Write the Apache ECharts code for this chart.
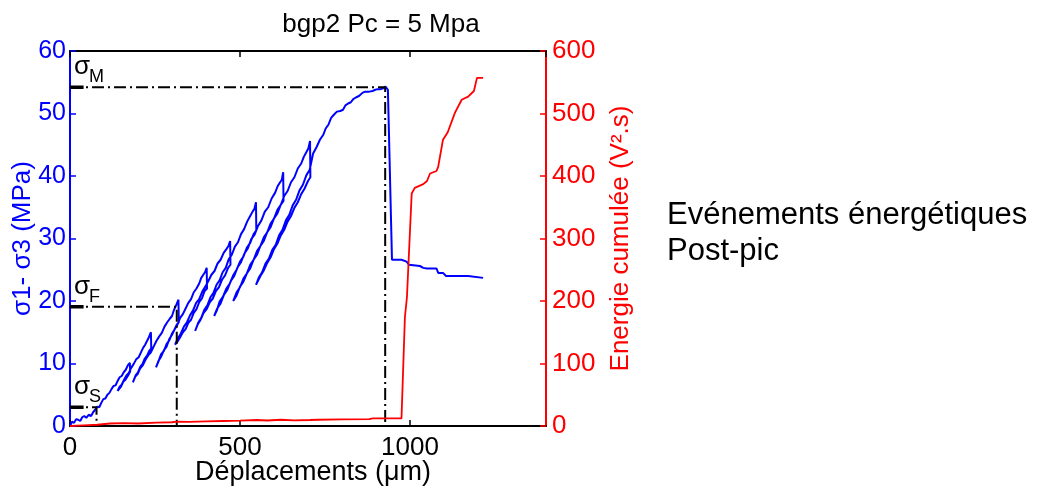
<!DOCTYPE html>
<html>
<head>
<meta charset="utf-8">
<script src="https://cdn.jsdelivr.net/npm/echarts/dist/echarts.min.js"></script>
<style>
html,body{margin:0;padding:0;background:#fff;}
#chart{width:1037px;height:490px;}
</style>
</head>
<body>
<div id="chart"></div>
<script>
// ---- data ----
const titleText = 'bgp2 Pc = 5 Mpa';
const xName = 'Déplacements (μm)';
const yLeftName = 'σ1- σ3 (MPa)';
const yRightName = 'Energie cumulée (V².s)';
const sideText1 = 'Evénements énergétiques';
const sideText2 = 'Post-pic';

// stress (MPa) vs displacement (µm) – blue curve with loading/unloading cycles
const stressCurve = [
  [0,0],[6,0.7],[12,0.5],[18,1.1],[24,1.0],[30,0.8],[36,1.4],[42,1.6],[48,1.3],[55,1.8],[62,1.6],[68,2.2],
  [74,2.6],[80,3.1],[86,3.0],[92,3.7],[98,4.3],[104,4.4],[110,5.0],[116,5.3],[122,5.9],[128,6.4],[134,6.5],
  [140,7.2],[146,7.8],[152,8.0],[158,8.6],[164,9.0],[170,9.7],[176,10.1],
  [177,8.7],[170,8.0],[163,7.4],[157,7.1],[150,6.3],[145,6.0],[140,5.6],
  [146,6.3],[152,6.6],[159,7.4],[166,8.1],[173,8.5],[180,9.3],[187,9.9],[195,10.7],[202,11.0],[208,11.7],
  [215,12.5],[221,13.0],[226,13.3],[232,14.2],[238,15.0],
  [239,12.4],[233,12.0],[227,11.3],[220,10.8],[214,10.0],[207,9.5],[200,8.6],[193,8.1],[185,7.0],
  [192,7.9],[199,8.3],[206,9.2],[214,9.7],[222,10.6],[230,11.3],[238,11.8],[246,12.7],[254,13.6],[262,14.3],
  [270,14.9],[278,15.9],[286,16.6],[294,17.2],[300,17.6],[306,18.6],[312,19.3],[316,19.6],[319,20.2],
  [320,16.6],[314,16.2],[307,15.4],[300,14.8],[292,13.7],[284,13.1],[276,12.0],[268,11.5],[260,10.3],[253,9.4],
  [260,10.4],[268,11.1],[276,12.1],[284,12.7],[292,13.9],[300,14.6],[308,15.5],[316,16.2],[324,17.3],[332,17.9],
  [340,18.8],[348,19.7],[356,20.3],[364,21.4],[372,22.0],[380,22.8],[386,23.7],[392,24.2],[397,24.6],[402,25.3],
  [403,22.0],[396,21.6],[388,20.4],[380,19.8],[372,18.7],[364,18.1],[356,17.0],[348,16.5],[340,15.5],[332,15.0],
  [324,14.2],[316,13.5],[309,13.0],
  [317,14.0],[326,14.8],[335,15.9],[344,16.6],[353,17.7],[362,18.5],[371,19.7],[380,20.3],[389,21.5],[398,22.3],
  [407,23.2],[416,24.2],[425,24.8],[434,26.0],[443,26.6],[452,27.7],[460,28.3],[466,28.8],[471,29.6],
  [472,25.8],[465,25.3],[456,24.1],[447,23.4],[438,22.2],[429,21.6],[420,20.4],[411,19.8],[402,18.7],[393,18.1],
  [384,17.0],[376,16.3],[368,15.2],
  [377,16.5],[386,17.3],[395,18.6],[404,19.3],[413,20.6],[422,21.3],[431,22.6],[440,23.3],[449,24.6],[458,25.3],
  [467,26.7],[476,27.4],[485,28.7],[494,29.4],[503,30.7],[512,31.5],[521,32.7],[530,33.6],[537,34.3],[542,34.7],[547,35.8],
  [548,31.3],[540,30.7],[530,29.3],[520,28.5],[510,27.1],[500,26.3],[490,25.0],[480,24.1],[470,22.8],[460,22.0],
  [450,20.7],[440,19.9],[432,18.5],[424,17.6],
  [433,18.8],[443,19.6],[453,21.0],[463,21.8],[473,23.2],[483,24.0],[493,25.4],[503,26.2],[513,27.6],[523,28.4],
  [533,29.9],[543,30.6],[553,32.0],[563,32.9],[573,34.3],[583,35.0],[593,36.4],[603,37.3],[611,38.4],[618,39.0],
  [623,39.4],[627,40.6],
  [628,36.0],[620,35.4],[610,34.0],[600,33.2],[590,31.8],[580,31.0],[570,29.6],[560,28.8],[550,27.4],[540,26.6],
  [530,25.2],[520,24.4],[510,23.1],[500,22.3],[490,20.9],[480,20.0],
  [490,21.4],[500,22.2],[510,23.6],[520,24.4],[530,25.8],[540,26.6],[550,28.0],[560,28.8],[570,30.2],[580,31.0],
  [590,32.4],[600,33.2],[610,34.6],[620,35.4],[630,36.8],[640,37.6],[650,39.0],[660,39.8],[670,41.2],[680,42.0],
  [688,43.1],[695,43.8],[701,44.4],[706,45.6],
  [707,39.8],[700,39.2],[690,38.0],[680,37.1],[670,35.8],[660,34.9],[650,33.6],[640,32.7],[630,31.4],[620,30.5],
  [610,29.2],[600,28.3],[590,27.0],[580,26.1],[570,24.9],[560,24.0],[547,22.6],
  [555,23.7],[565,24.6],[575,26.0],[585,26.8],[595,28.2],[605,29.0],[615,30.5],[625,31.4],[635,32.9],[645,33.8],
  [655,35.3],[665,36.2],[675,37.7],[685,38.6],[695,40.1],[705,41.0],[715,43.6],[725,44.6],[735,45.8],[745,46.6],
  [752,47.6],[760,48.2],[768,49.3],[776,49.8],[785,50.3],[795,50.4],[803,50.6],[810,51.3],[818,51.6],[826,51.8],
  [833,52.3],[842,52.6],[850,52.8],[860,53.3],[868,53.5],[880,53.5],[890,53.6],[898,53.8],[905,53.9],[913,53.9],
  [920,54.0],[928,54.3],
  [935,53.8],[947,26.6],[975,26.6],[990,26.3],[997,25.8],[1029,25.6],[1039,25.3],[1044,25.6],[1050,25.2],
  [1078,25.2],[1083,24.5],[1097,24.5],[1106,24.0],[1171,24.0],[1176,23.7],[1215,23.7]
];

// cumulated energy (V².s) vs displacement – red curve
const energyCurve = [
  [0,0],[40,1],[80,2],[118,4],[160,4.5],[200,4],[255,5.3],[300,6],[314,7],[350,6.5],[400,7.5],
  [450,8],[500,8.5],[549,9.6],[580,8.8],[620,10],[660,9],[706,9.6],[730,10],[800,10.5],[880,11],
  [891,12.3],[930,12.3],[975,12.3],[985,174],[991,206],[1005,372],[1014,381],[1039,387],[1050,392],
  [1059,404],[1078,408],[1083,415],[1097,458],[1111,470],[1132,501],[1152,522],[1171,527],[1188,536],
  [1197,557],[1215,557]
];

// characteristic stress levels: [displacement, stress]
const sigmaM = [927, 54.2];
const sigmaF = [314, 19.1];
const sigmaS = [78, 3.0];
const sigmaNames = ['M', 'F', 'S'];

const FONT = '"Liberation Sans", Arial, Helvetica, sans-serif';
const BLUE = '#0000ff', RED = '#ff0000';

function refLine(p) { return [[0, p[1]], [p[0], p[1]], [p[0], 0]]; }
function thickStub(p) { return [[0, p[1]], [Math.min(40, p[0]), p[1]]]; }

const sigmas = [sigmaM, sigmaF, sigmaS];
const refSeries = [];
sigmas.forEach(function (p) {
  refSeries.push({
    type: 'line', data: refLine(p), showSymbol: false, silent: true, z: 4,
    lineStyle: { color: '#000', width: 2, type: [12, 4, 2, 4] }
  });
  refSeries.push({
    type: 'line', data: thickStub(p), showSymbol: false, silent: true, z: 4,
    lineStyle: { color: '#000', width: 3.5 }
  });
});

const plainNum = function (v) { return String(v); };

const option = {
  animation: false,
  backgroundColor: '#fff',
  textStyle: { fontFamily: FONT },
  grid: { left: 70, right: 491, top: 51, bottom: 64, containLabel: false, outerBoundsMode: 'none' },
  xAxis: [
    {
      type: 'value', min: 0, max: 1400, interval: 500, position: 'bottom',
      axisLine: { show: true, onZero: false, lineStyle: { color: '#000', width: 2 } },
      axisTick: { show: true, inside: true, length: 6, lineStyle: { color: '#000', width: 1.5 } },
      axisLabel: { color: '#000', fontSize: 26, margin: 9, fontFamily: FONT, formatter: plainNum, showMaxLabel: false },
      splitLine: { show: false },
      name: xName, nameLocation: 'middle', nameGap: 33, nameMoveOverlap: false,
      nameTextStyle: { color: '#000', fontSize: 27, fontFamily: FONT, padding: [0, 0, 0, 10] }
    },
    {
      type: 'value', min: 0, max: 1400, interval: 500, position: 'top',
      axisLine: { show: true, onZero: false, lineStyle: { color: '#000', width: 2 } },
      axisTick: { show: true, inside: true, length: 6, lineStyle: { color: '#000', width: 1.5 } },
      axisLabel: { show: false }, splitLine: { show: false }
    }
  ],
  yAxis: [
    {
      type: 'value', min: 0, max: 60, interval: 10, position: 'left',
      axisLine: { show: true, onZero: false, lineStyle: { color: BLUE, width: 2 } },
      axisTick: { show: true, inside: true, length: 6, lineStyle: { color: BLUE, width: 1.5 } },
      axisLabel: { color: BLUE, fontSize: 25, margin: 4, fontFamily: FONT, formatter: plainNum },
      splitLine: { show: false },
      name: yLeftName, nameLocation: 'middle', nameGap: 34, nameRotate: 90, nameMoveOverlap: false,
      nameTextStyle: { color: BLUE, fontSize: 26, fontFamily: FONT }
    },
    {
      type: 'value', min: 0, max: 600, interval: 100, position: 'right',
      axisLine: { show: true, onZero: false, lineStyle: { color: RED, width: 2 } },
      axisTick: { show: true, inside: true, length: 6, lineStyle: { color: RED, width: 1.5 } },
      axisLabel: { color: RED, fontSize: 26, margin: 6, fontFamily: FONT, formatter: plainNum },
      splitLine: { show: false },
      name: yRightName, nameLocation: 'middle', nameGap: 62, nameRotate: 90, nameMoveOverlap: false,
      nameTextStyle: { color: RED, fontSize: 26, fontFamily: FONT }
    }
  ],
  series: [
    {
      type: 'line', data: stressCurve, xAxisIndex: 0, yAxisIndex: 0, showSymbol: false, z: 3,
      lineStyle: { color: BLUE, width: 2 }
    },
    {
      type: 'line', data: energyCurve, xAxisIndex: 0, yAxisIndex: 1, showSymbol: false, z: 5,
      lineStyle: { color: RED, width: 1.8 }
    }
  ].concat(refSeries)
};

const chart = echarts.init(document.getElementById('chart'), null, { renderer: 'canvas' });
chart.setOption(option);

const graphics = [
  { type: 'text', x: 381, y: 25, style: { text: titleText, fontSize: 26, fontFamily: FONT, fill: '#000', align: 'center', verticalAlign: 'middle' } },
  { type: 'text', x: 667, y: 215, style: { text: sideText1, fontSize: 31, fontFamily: FONT, fill: '#000', align: 'left', verticalAlign: 'middle' } },
  { type: 'text', x: 667, y: 251, style: { text: sideText2, fontSize: 31, fontFamily: FONT, fill: '#000', align: 'left', verticalAlign: 'middle' } }
];
sigmas.forEach(function (p, i) {
  const px = chart.convertToPixel({ seriesIndex: 0 }, [0, p[1]]);
  graphics.push({ type: 'text', x: px[0] + 4, y: px[1] - 20, style: { text: 'σ', fontSize: 26, fontFamily: FONT, fill: '#000', align: 'left', verticalAlign: 'middle' } });
  graphics.push({ type: 'text', x: px[0] + 19, y: px[1] - 10, style: { text: sigmaNames[i], fontSize: 18, fontFamily: FONT, fill: '#000', align: 'left', verticalAlign: 'middle' } });
});
chart.setOption({ graphic: graphics });
</script>
</body>
</html>
